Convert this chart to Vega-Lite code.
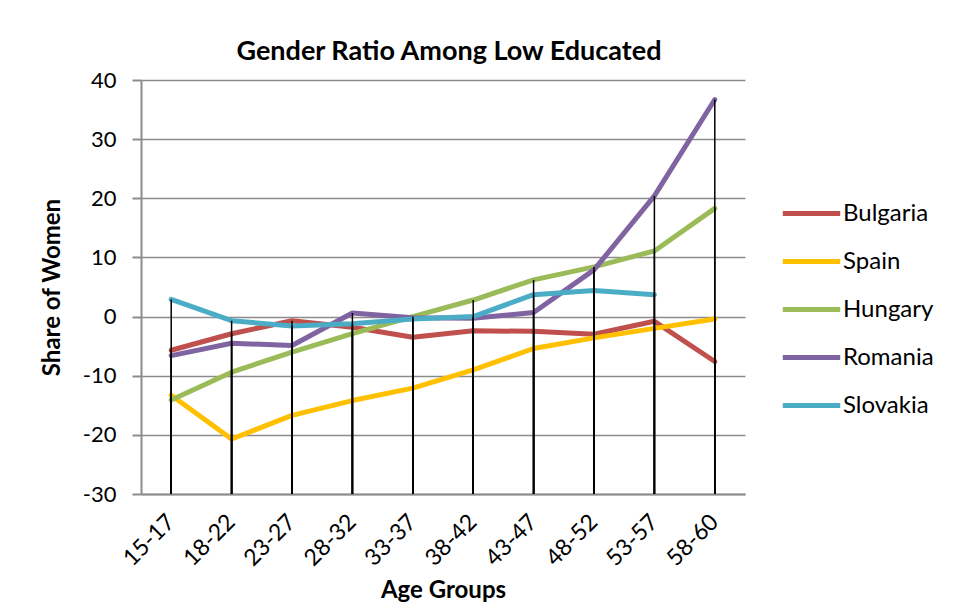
{
  "$schema": "https://vega.github.io/schema/vega-lite/v6.json",
  "autosize": {"type": "none"},
  "width": 604,
  "height": 414,
  "padding": {"left": 141, "top": 80, "right": 208, "bottom": 111},
  "background": "white",
  "title": {
    "text": "Gender Ratio Among Low Educated",
    "font": "Lato",
    "fontSize": 27,
    "fontWeight": "bold",
    "color": "black",
    "anchor": "middle",
    "dx": 6,
    "offset": 3
  },
  "data": {
    "values": [
      {"age": "15-17", "country": "Bulgaria", "value": -5.7},
      {"age": "18-22", "country": "Bulgaria", "value": -2.9},
      {"age": "23-27", "country": "Bulgaria", "value": -0.7},
      {"age": "28-32", "country": "Bulgaria", "value": -1.8},
      {"age": "33-37", "country": "Bulgaria", "value": -3.5},
      {"age": "38-42", "country": "Bulgaria", "value": -2.4},
      {"age": "43-47", "country": "Bulgaria", "value": -2.5},
      {"age": "48-52", "country": "Bulgaria", "value": -3.0},
      {"age": "53-57", "country": "Bulgaria", "value": -0.8},
      {"age": "58-60", "country": "Bulgaria", "value": -7.6},
      {"age": "15-17", "country": "Spain", "value": -13.3},
      {"age": "18-22", "country": "Spain", "value": -20.7},
      {"age": "23-27", "country": "Spain", "value": -16.7},
      {"age": "28-32", "country": "Spain", "value": -14.2},
      {"age": "33-37", "country": "Spain", "value": -12.1},
      {"age": "38-42", "country": "Spain", "value": -9.0},
      {"age": "43-47", "country": "Spain", "value": -5.4},
      {"age": "48-52", "country": "Spain", "value": -3.6},
      {"age": "53-57", "country": "Spain", "value": -2.0},
      {"age": "58-60", "country": "Spain", "value": -0.4},
      {"age": "15-17", "country": "Hungary", "value": -14.1},
      {"age": "18-22", "country": "Hungary", "value": -9.4},
      {"age": "23-27", "country": "Hungary", "value": -6.0},
      {"age": "28-32", "country": "Hungary", "value": -2.9},
      {"age": "33-37", "country": "Hungary", "value": 0.0},
      {"age": "38-42", "country": "Hungary", "value": 2.8},
      {"age": "43-47", "country": "Hungary", "value": 6.2},
      {"age": "48-52", "country": "Hungary", "value": 8.4},
      {"age": "53-57", "country": "Hungary", "value": 11.1},
      {"age": "58-60", "country": "Hungary", "value": 18.3},
      {"age": "15-17", "country": "Romania", "value": -6.6},
      {"age": "18-22", "country": "Romania", "value": -4.5},
      {"age": "23-27", "country": "Romania", "value": -4.9},
      {"age": "28-32", "country": "Romania", "value": 0.6},
      {"age": "33-37", "country": "Romania", "value": -0.2},
      {"age": "38-42", "country": "Romania", "value": -0.3},
      {"age": "43-47", "country": "Romania", "value": 0.7},
      {"age": "48-52", "country": "Romania", "value": 7.9},
      {"age": "53-57", "country": "Romania", "value": 20.4},
      {"age": "58-60", "country": "Romania", "value": 36.7},
      {"age": "15-17", "country": "Slovakia", "value": 2.9},
      {"age": "18-22", "country": "Slovakia", "value": -0.7},
      {"age": "23-27", "country": "Slovakia", "value": -1.6},
      {"age": "28-32", "country": "Slovakia", "value": -1.2},
      {"age": "33-37", "country": "Slovakia", "value": -0.4},
      {"age": "38-42", "country": "Slovakia", "value": 0.0},
      {"age": "43-47", "country": "Slovakia", "value": 3.7},
      {"age": "48-52", "country": "Slovakia", "value": 4.4},
      {"age": "53-57", "country": "Slovakia", "value": 3.7}
    ]
  },
  "encoding": {
    "x": {
      "field": "age",
      "type": "ordinal",
      "sort": null,
      "scale": {"paddingInner": 0, "paddingOuter": 0},
      "axis": {
        "title": "Age Groups",
        "labelAngle": -45,
        "labelAlign": "right",
        "labelBaseline": "middle",
        "labelFontSize": 23,
        "labelPadding": 24,
        "ticks": false,
        "titlePadding": 8
      }
    },
    "y": {
      "field": "value",
      "type": "quantitative",
      "scale": {"domain": [-30, 40], "nice": false},
      "axis": {
        "title": "Share of Women",
        "values": [-30, -20, -10, 0, 10, 20, 30, 40],
        "labelExpr": "replace(datum.label, '\u2212', '-')",
        "labelFontSize": 22,
        "tickSize": 9,
        "labelPadding": 16,
        "grid": true,
        "titlePadding": 18
      }
    }
  },
  "layer": [
    {
      "mark": {"type": "line", "strokeWidth": 5, "strokeCap": "round", "strokeJoin": "round"},
      "encoding": {
        "color": {
          "field": "country",
          "type": "nominal",
          "sort": null,
          "scale": {
            "domain": ["Bulgaria", "Spain", "Hungary", "Romania", "Slovakia"],
            "range": ["#C0504D", "#FFC000", "#9BBB59", "#8064A2", "#4BACC6"]
          },
          "legend": {
            "title": null,
            "orient": "none",
            "legendX": 639,
            "legendY": 102,
            "symbolType": "stroke",
            "symbolSize": 3300,
            "symbolStrokeWidth": 5,
            "labelFontSize": 24,
            "rowPadding": 4,
            "labelOffset": 0
          }
        }
      }
    },
    {
      "mark": {"type": "rule", "color": "black", "strokeWidth": 1.5},
      "encoding": {
        "y2": {"datum": -30}
      }
    }
  ],
  "config": {
    "font": "Lato",
    "view": {"stroke": null},
    "axis": {
      "labelColor": "black",
      "labelFont": "Lato",
      "titleFont": "Lato",
      "titleFontSize": 24,
      "titleFontWeight": "bold",
      "titleColor": "black",
      "domainColor": "#8c8c8c",
      "domainWidth": 2,
      "tickColor": "#8c8c8c",
      "tickWidth": 2,
      "gridColor": "#8c8c8c",
      "gridWidth": 1.5
    },
    "legend": {
      "labelFont": "Lato",
      "labelColor": "black"
    }
  }
}
